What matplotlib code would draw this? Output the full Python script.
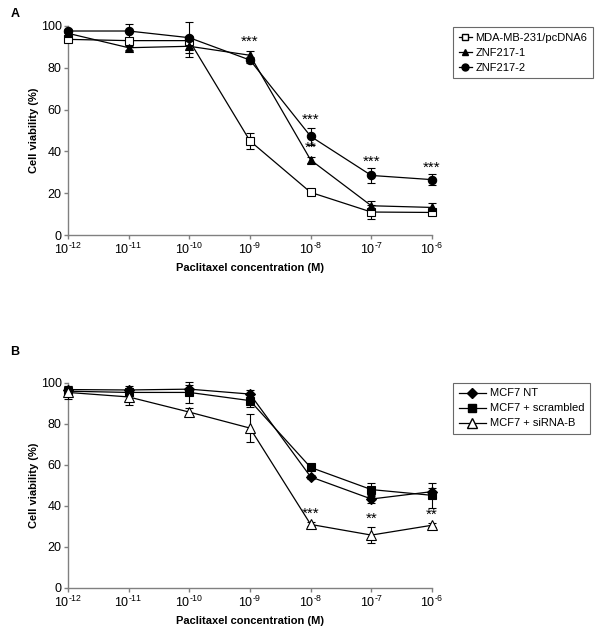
import matplotlib
matplotlib.use("Agg")
import matplotlib.pyplot as plt
from matplotlib.lines import Line2D

plt.rcParams['font.family'] = ['Liberation Sans', 'DejaVu Sans']
plt.rcParams['mathtext.fontset'] = 'custom'
plt.rcParams['mathtext.rm'] = 'Liberation Sans'
plt.rcParams['mathtext.it'] = 'Liberation Sans'
plt.rcParams['mathtext.bf'] = 'Liberation Sans:bold'

conc = [1e-12, 1e-11, 1e-10, 1e-9, 1e-8, 1e-7, 1e-6]
tick_labels = [r'$10^{\text{-12}}$', r'$10^{\text{-11}}$', r'$10^{\text{-10}}$', r'$10^{\text{-9}}$',
               r'$10^{\text{-8}}$', r'$10^{\text{-7}}$', r'$10^{\text{-6}}$']

# Panel A
a_names = ['MDA-MB-231/pcDNA6', 'ZNF217-1', 'ZNF217-2']
a_pcdna6 = [93.6, 93.0, 93.0, 45.0, 20.4, 11.0, 10.8]
a_pcdna6_err = [1.0, 1.0, 1.0, 4.0, 0.8, 3.5, 1.2]
a_znf1 = [96.5, 89.6, 90.3, 86.0, 35.9, 14.0, 13.2]
a_znf1_err = [1.0, 1.0, 5.0, 2.0, 1.5, 2.5, 2.0]
a_znf2 = [97.6, 97.6, 94.4, 83.7, 47.2, 28.5, 26.5]
a_znf2_err = [1.0, 3.5, 7.5, 1.5, 4.2, 3.5, 2.5]
a_stars_x = [1e-9, 1e-8, 1e-8, 1e-7, 1e-6]
a_stars_y = [89.0, 52.0, 38.5, 31.5, 29.0]
a_stars_txt = ['***', '***', '**', '***', '***']

# Panel B
b_names = ['MCF7 NT', 'MCF7 + scrambled', 'MCF7 + siRNA-B']
b_nt = [96.8, 96.6, 97.0, 94.6, 54.2, 43.4, 47.0]
b_nt_err = [1.5, 2.0, 2.0, 2.0, 1.0, 2.0, 2.0]
b_scr = [96.0, 95.4, 95.4, 91.4, 58.8, 48.0, 45.2]
b_scr_err = [1.5, 1.5, 5.0, 3.0, 1.0, 3.0, 6.0]
b_si = [95.4, 93.2, 85.8, 78.0, 31.0, 25.8, 30.6]
b_si_err = [3.0, 4.0, 2.0, 7.0, 1.0, 4.0, 1.0]
b_stars_x = [1e-8, 1e-7, 1e-6]
b_stars_y = [33.0, 30.5, 32.5]
b_stars_txt = ['***', '**', '**']

fig = plt.figure(figsize=(6.0, 6.34), dpi=100)

spine_col = '#808080'

def style_ax(ax):
    ax.set_xscale('log')
    ax.set_xlim(1e-12, 1e-6)
    ax.set_ylim(0, 100)
    ax.set_xticks(conc)
    ax.set_xticklabels(tick_labels)
    ax.minorticks_off()
    ax.set_yticks([0, 20, 40, 60, 80, 100])
    for s in ['top', 'right']:
        ax.spines[s].set_visible(False)
    for s in ['left', 'bottom']:
        ax.spines[s].set_color(spine_col)
        ax.spines[s].set_linewidth(1.0)
    ax.tick_params(axis='both', colors=spine_col, labelcolor='black',
                   labelsize=9, length=3, width=1.0, direction='out')
    ax.tick_params(axis='y', pad=1.5)
    ax.tick_params(axis='x', pad=2)
    ax.set_ylabel('Cell viability (%)', fontsize=8, fontweight='bold', labelpad=1)
    ax.set_xlabel('Paclitaxel concentration (M)', fontsize=8, fontweight='bold', labelpad=4)

def series(ax, y, err, marker, mfc, ms):
    ax.errorbar(conc, y, yerr=err, color='black', lw=0.9, marker=marker,
                mfc=mfc, mec='black', ms=ms, mew=0.8, capsize=3, elinewidth=0.8,
                capthick=0.8, clip_on=False, zorder=3)

axA = fig.add_axes([0.1133, 0.6293, 0.6067, 0.3297])
style_ax(axA)
series(axA, a_pcdna6, a_pcdna6_err, 's', 'white', 6)
series(axA, a_znf1, a_znf1_err, '^', 'black', 6)
series(axA, a_znf2, a_znf2_err, 'o', 'black', 6)
for x, y, t in zip(a_stars_x, a_stars_y, a_stars_txt):
    axA.text(x, y, t, ha='center', va='bottom', fontsize=11)

handlesA = [Line2D([], [], color='black', lw=0.9, marker='s', mfc='white', mec='black', ms=5),
            Line2D([], [], color='black', lw=0.9, marker='^', mfc='black', mec='black', ms=5),
            Line2D([], [], color='black', lw=0.9, marker='o', mfc='black', mec='black', ms=5)]
legA = fig.legend(handlesA, a_names, loc='upper left', bbox_to_anchor=(0.755, 0.957),
                  fontsize=8, frameon=True, fancybox=False, handlelength=1.2,
                  handletextpad=0.3, borderpad=0.5, labelspacing=0.45, borderaxespad=0)
legA.get_frame().set_edgecolor('#444444')
legA.get_frame().set_linewidth(0.8)

axB = fig.add_axes([0.1133, 0.0726, 0.6067, 0.3233])
style_ax(axB)
series(axB, b_nt, b_nt_err, 'D', 'black', 5.0)
series(axB, b_scr, b_scr_err, 's', 'black', 6.0)
series(axB, b_si, b_si_err, '^', 'white', 6.5)
for x, y, t in zip(b_stars_x, b_stars_y, b_stars_txt):
    axB.text(x, y, t, ha='center', va='bottom', fontsize=11)

handlesB = [Line2D([], [], color='black', lw=0.9, marker='D', mfc='black', mec='black', ms=5),
            Line2D([], [], color='black', lw=0.9, marker='s', mfc='black', mec='black', ms=6),
            Line2D([], [], color='black', lw=0.9, marker='^', mfc='white', mec='black', ms=6.5)]
legB = fig.legend(handlesB, b_names, loc='upper left', bbox_to_anchor=(0.755, 0.396),
                  fontsize=8, frameon=True, fancybox=False, handlelength=2.5,
                  handletextpad=0.3, borderpad=0.5, labelspacing=0.45, borderaxespad=0)
legB.get_frame().set_edgecolor('#444444')
legB.get_frame().set_linewidth(0.8)

fig.text(0.017, 0.988, 'A', fontsize=9, fontweight='bold', va='top')
fig.text(0.017, 0.455, 'B', fontsize=9, fontweight='bold', va='top')

fig.savefig('out.png', dpi=100)
